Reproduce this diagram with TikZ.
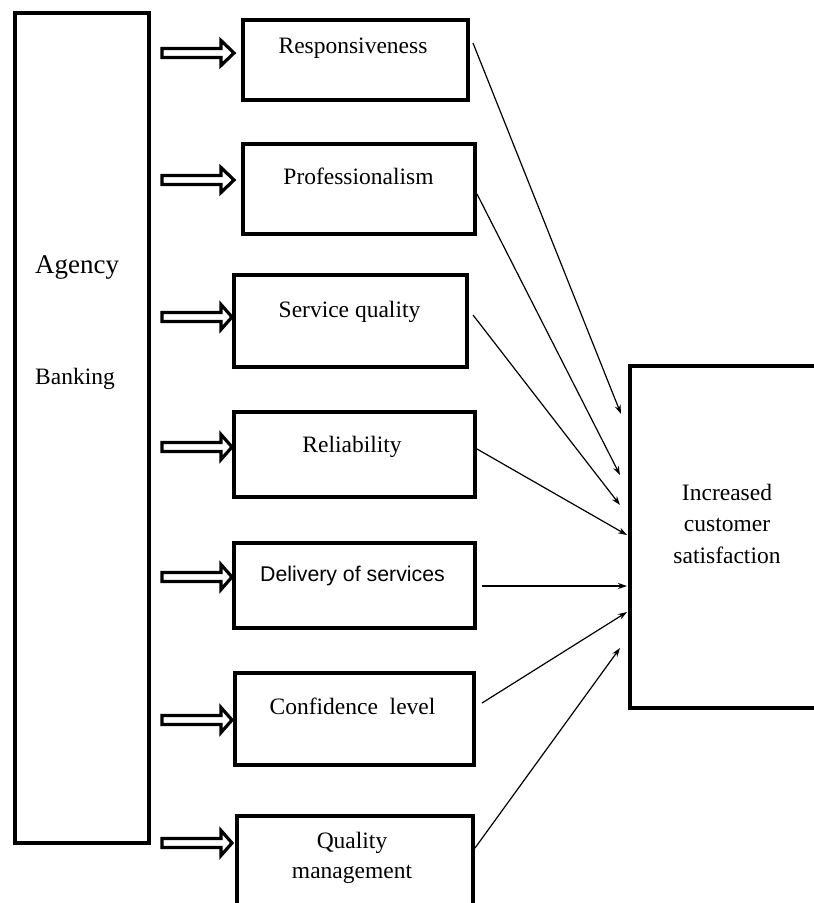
\documentclass[tikz,border=0pt]{standalone}
\usepackage{fontspec}
\setmainfont{Liberation Serif}
\newfontfamily\arialfont{Liberation Sans}
\usetikzlibrary{arrows.meta}
\newcommand\fatarrow[2]{%
  \draw[fatarrow] (162,#1-4.5) -- (221,#1-4.5) -- (221,#1-12.5) -- (#2-1,#1) -- (221,#1+12.5) -- (221,#1+4.5) -- (162,#1+4.5) -- cycle;}
\begin{document}
\begin{tikzpicture}[x=1pt,y=-1pt,
  box/.style={draw,line width=3.2pt,inner sep=0pt},
  lbl/.style={font=\fontsize{23.5}{31}\selectfont,inner sep=0pt,align=center,anchor=base},
  conn/.style={line width=1.2pt,-{Stealth[length=9pt,width=6pt]}},
  fatarrow/.style={draw,line width=3.2pt,fill=white,line join=miter,miter limit=4}]
\useasboundingbox (0,0) rectangle (814,903);
\fill[white] (0,0) rectangle (814,903);
\clip (0,0) rectangle (814,903);
% boxes
\node[box,minimum width=134pt,minimum height=830pt] (agency) at (82,428) {};
\node[box,minimum width=225pt,minimum height=80pt] (b1) at (355.5,60) {};
\node[box,minimum width=232pt,minimum height=90pt] (b2) at (359,189) {};
\node[box,minimum width=233pt,minimum height=92pt] (b3) at (350.5,321) {};
\node[box,minimum width=241pt,minimum height=85pt] (b4) at (354.5,454.5) {};
\node[box,minimum width=241pt,minimum height=85pt] (b5) at (354.5,585.5) {};
\node[box,minimum width=239pt,minimum height=92pt] (b6) at (354.5,719) {};
\node[box,minimum width=236pt,minimum height=104pt] (b7) at (355,868) {};
\node[box,minimum width=210pt,minimum height=342pt] (res) at (735,537) {};
% texts
\node[lbl,font=\fontsize{27}{31}\selectfont,anchor=base west] (tagency) at (35,273) {Agency};
\node[lbl,anchor=base west] (tbanking) at (35,384) {Banking};
\node[lbl] (t1) at (353,53) {Responsiveness};
\node[lbl] (t2) at (358.5,184) {Professionalism};
\node[lbl] (t3) at (349.5,317) {Service quality};
\node[lbl] (t4) at (352,452) {Reliability};
\node[lbl,font=\arialfont\fontsize{21.3}{30}\selectfont] (t5) at (352.5,581) {Delivery of services};
\node[lbl] (t6) at (352.5,714) {Confidence\ \ level};
\node[lbl,font=\fontsize{23.5}{30}\selectfont] (t7) at (352,878) {Quality\\management};
\node[lbl,font=\fontsize{23.5}{31.5}\selectfont] (tres) at (727,563) {Increased\\customer\\satisfaction};
% hollow arrows from agency box
\fatarrow{53}{235}
\fatarrow{180}{235}
\fatarrow{317}{233}
\fatarrow{447}{233}
\fatarrow{577}{233}
\fatarrow{720}{233}
\fatarrow{843}{233}
% connector endpoints
\coordinate (s1) at (473,43);  \coordinate (e1) at (621,414);
\coordinate (s2) at (477,194); \coordinate (e2) at (620,475);
\coordinate (s3) at (473,315); \coordinate (e3) at (620,505);
\coordinate (s4) at (477,449); \coordinate (e4) at (627,535);
\coordinate (s5) at (482,586); \coordinate (e5) at (627,586);
\coordinate (s6) at (482,703); \coordinate (e6) at (627,612);
\coordinate (s7) at (475,848); \coordinate (e7) at (620,648);
\foreach \i in {1,...,7} {\draw[conn] (s\i) -- (e\i);}
\end{tikzpicture}
\end{document}
